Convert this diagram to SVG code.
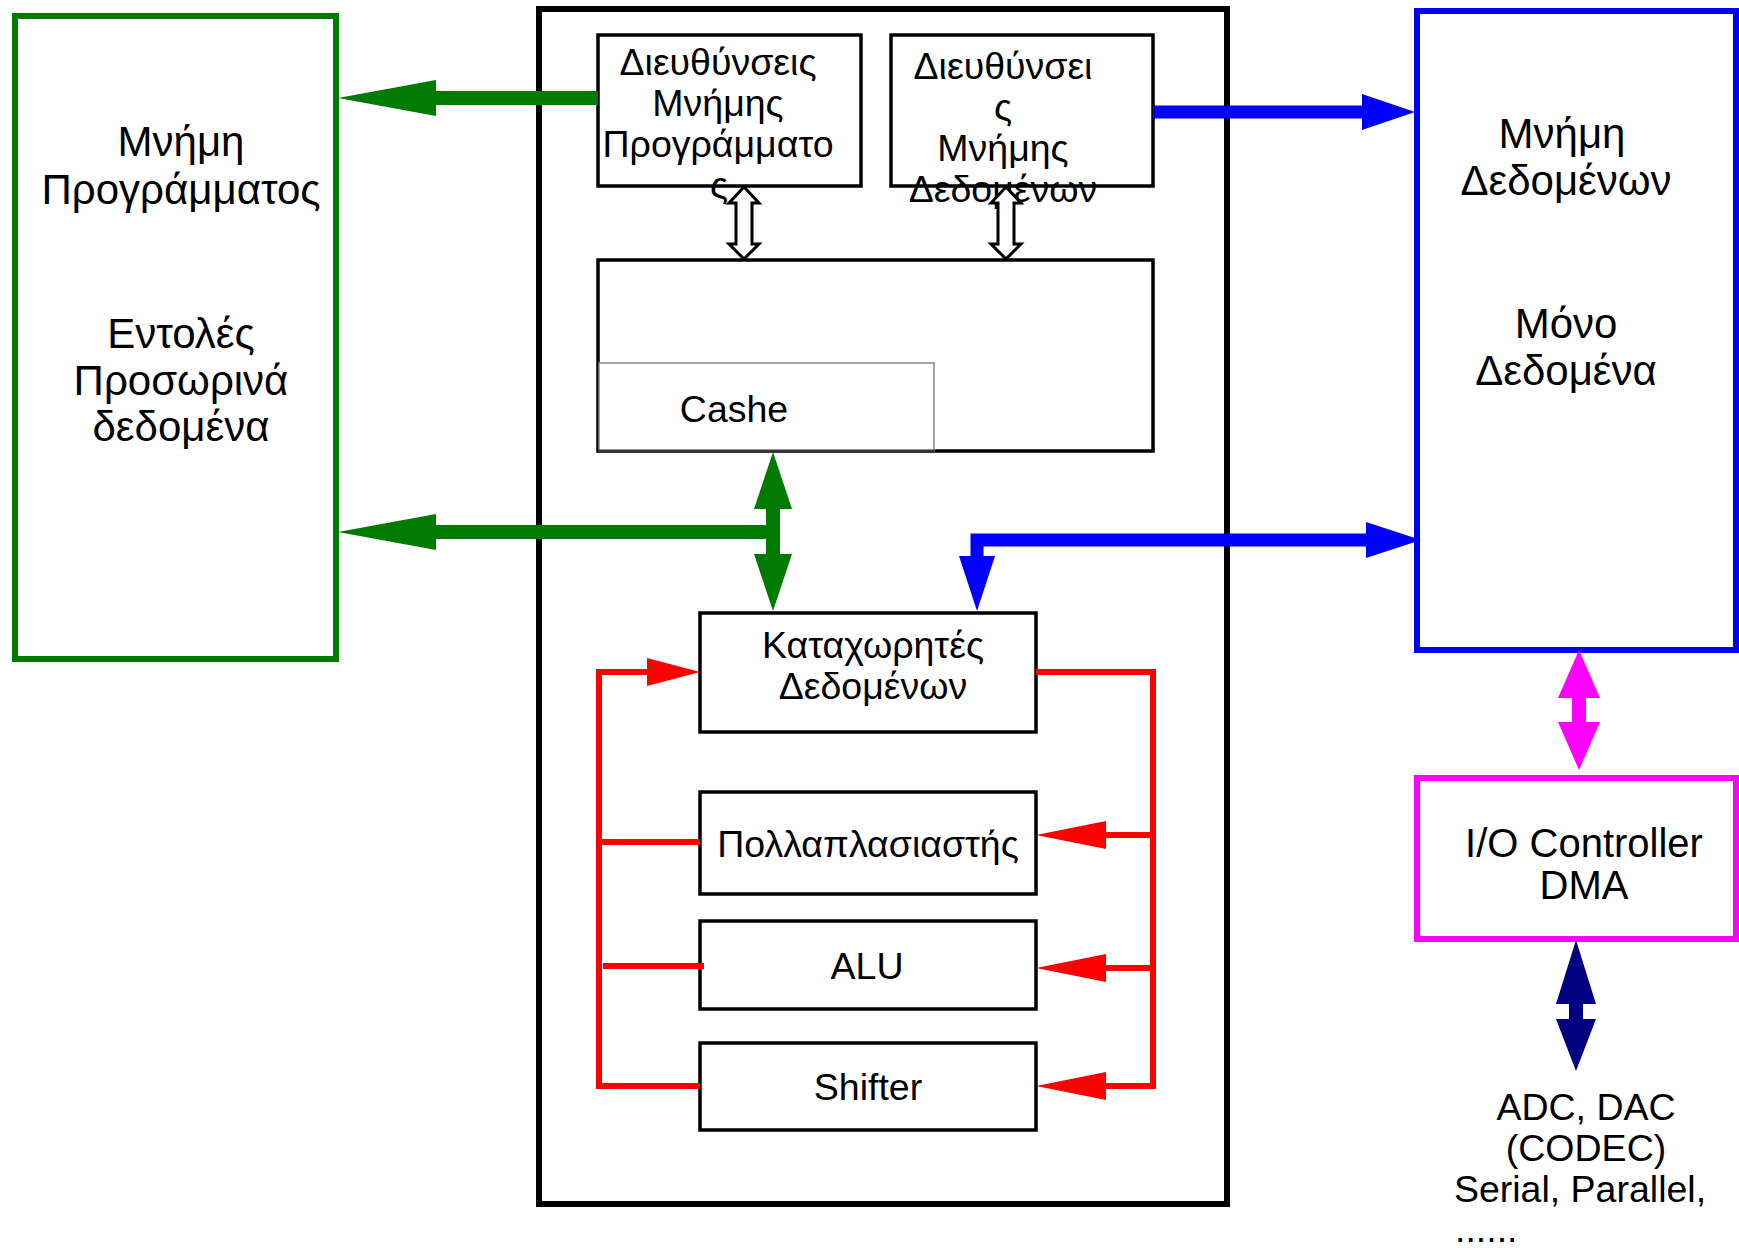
<svg xmlns="http://www.w3.org/2000/svg" width="1739" height="1248" viewBox="0 0 1739 1248">
<style>
text{font-family:"Liberation Sans",Arial,sans-serif;fill:#000;text-anchor:middle}
.t42{font-size:42px}
.t40{font-size:40px}
.t37{font-size:37.5px}
.box{fill:#fff;stroke:#000;stroke-width:3.5}
.green{fill:#007a00}
.gl{stroke:#007a00;fill:none;stroke-width:14}
.bl{stroke:#0000ff;fill:none;stroke-width:13}
.blue{fill:#0000ff}
.rl{stroke:#ff0000;fill:none;stroke-width:6}
.red{fill:#ff0000}
.hollow{fill:#fff;stroke:#000;stroke-width:3;stroke-linejoin:miter}
</style>
<rect width="1739" height="1248" fill="#fff"/>

<g id="cpu"><rect x="539" y="9" width="688" height="1195" fill="#fff" stroke="#000" stroke-width="6"/></g>

<g id="program-memory">
<rect x="15" y="16" width="321" height="643" fill="#fff" stroke="#007a00" stroke-width="6"/>
<text class="t42" x="181" y="156">Μνήμη</text>
<text class="t42" x="181" y="204">Προγράμματος</text>
<text class="t42" x="181" y="348">Εντολές</text>
<text class="t42" x="181" y="395">Προσωρινά</text>
<text class="t42" x="181" y="441">δεδομένα</text>
</g>

<g id="data-memory">
<rect x="1417" y="11" width="319" height="639" fill="#fff" stroke="#0000ff" stroke-width="6"/>
<text class="t42" x="1562" y="148">Μνήμη</text>
<text class="t42" x="1566" y="195">Δεδομένων</text>
<text class="t42" x="1566" y="338">Μόνο</text>
<text class="t42" x="1566" y="385">Δεδομένα</text>
</g>

<g id="io-controller">
<rect x="1417" y="778" width="319" height="161" fill="#fff" stroke="#ff00ff" stroke-width="6"/>
<text class="t40" x="1584" y="857">I/O Controller</text>
<text class="t40" x="1584" y="899">DMA</text>
</g>

<g id="peripherals">
<text class="t37" x="1586" y="1120">ADC, DAC</text>
<text class="t37" x="1586" y="1161">(CODEC)</text>
<text class="t37" x="1580" y="1202">Serial, Parallel,</text>
<text class="t37" x="1455" y="1242" style="text-anchor:start">......</text>
</g>

<g id="program-addresses">
<rect class="box" x="598" y="35" width="263" height="151"/>
<text class="t37" x="718" y="75">Διευθύνσεις</text>
<text class="t37" x="718" y="116">Μνήμης</text>
<text class="t37" x="718" y="157">Προγράμματο</text>
<text class="t37" x="719" y="198">ς</text>
</g>

<g id="data-addresses">
<rect class="box" x="891" y="35" width="262" height="151"/>
<text class="t37" x="1003" y="79">Διευθύνσει</text>
<text class="t37" x="1003" y="120">ς</text>
<text class="t37" x="1003" y="161">Μνήμης</text>
<text class="t37" x="1003" y="202">Δεδομένων</text>
</g>

<g id="cache-block">
<rect class="box" x="598" y="260" width="555" height="191"/>
</g>
<g id="cache">
<rect x="599" y="363" width="335" height="88" fill="#fff" stroke="#888" stroke-width="1.5"/>
<line x1="598" y1="451" x2="934" y2="451" stroke="#333" stroke-width="3"/>
<text class="t37" x="734" y="422">Cashe</text>
</g>

<g id="registers">
<rect class="box" x="700" y="613" width="336" height="119"/>
<text class="t37" x="873" y="658">Καταχωρητές</text>
<text class="t37" x="873" y="699">Δεδομένων</text>
</g>
<g id="multiplier">
<rect class="box" x="700" y="792" width="336" height="102"/>
<text class="t37" x="868" y="857">Πολλαπλασιαστής</text>
</g>
<g id="alu">
<rect class="box" x="700" y="921" width="336" height="88"/>
<text class="t37" x="867" y="979">ALU</text>
</g>
<g id="shifter">
<rect class="box" x="700" y="1043" width="336" height="87"/>
<text class="t37" x="868" y="1100">Shifter</text>
</g>

<g id="connectors">
<!-- green -->
<line class="gl" x1="598" y1="98" x2="430" y2="98"/>
<polygon class="green" points="338,98 436,80 436,116"/>
<line class="gl" x1="780" y1="532" x2="430" y2="532"/>
<polygon class="green" points="338,532 436,514 436,550"/>
<line class="gl" x1="773" y1="500" x2="773" y2="560"/>
<polygon class="green" points="773,452 754,509 792,509"/>
<polygon class="green" points="773,611 754,554 792,554"/>
<!-- hollow -->
<polygon class="hollow" points="744,187 729,203 736,203 736,244 729,244 744,259 759,244 752,244 752,203 759,203"/>
<polygon class="hollow" points="1006,187 991,203 998,203 998,244 991,244 1006,259 1021,244 1014,244 1014,203 1021,203"/>
<!-- blue -->
<line class="bl" x1="1153" y1="112" x2="1366" y2="112"/>
<polygon class="blue" points="1415,112 1362,94 1362,130"/>
<polyline class="bl" points="1370,540 977,540 977,560" style="stroke-linejoin:miter"/>
<polygon class="blue" points="1421,540 1366,522 1366,558"/>
<polygon class="blue" points="977,611 959,556 995,556"/>
<!-- magenta -->
<rect x="1572" y="695" width="14" height="30" fill="#ff00ff"/>
<polygon points="1579,650 1558,698 1600,698" fill="#ff00ff"/>
<polygon points="1579,770 1558,722 1600,722" fill="#ff00ff"/>
<!-- navy -->
<rect x="1569" y="1000" width="14" height="25" fill="#000080"/>
<polygon points="1576,940 1556,1004 1596,1004" fill="#000080"/>
<polygon points="1576,1071 1556,1019 1596,1019" fill="#000080"/>
<!-- red -->
<polyline class="rl" points="650,672 599,672 599,1086 700,1086"/>
<polygon class="red" points="700,672 647,658 647,686"/>
<line class="rl" x1="599" y1="842" x2="700" y2="842"/>
<line class="rl" x1="603" y1="966" x2="704" y2="966"/>
<polyline class="rl" points="1036,672 1153,672 1153,1086 1100,1086"/>
<line class="rl" x1="1153" y1="835" x2="1100" y2="835"/>
<line class="rl" x1="1153" y1="968" x2="1100" y2="968"/>
<polygon class="red" points="1036,835 1106,821 1106,849"/>
<polygon class="red" points="1036,968 1106,954 1106,982"/>
<polygon class="red" points="1036,1086 1106,1072 1106,1100"/>
</g>
</svg>
